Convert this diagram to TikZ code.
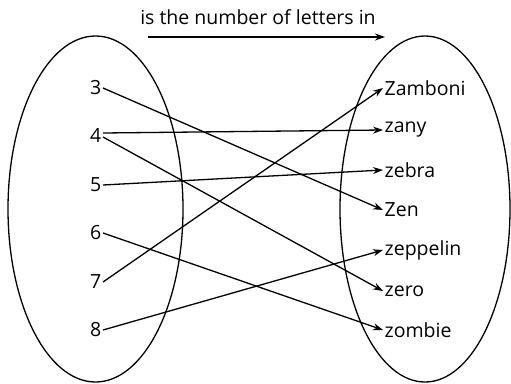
\documentclass[tikz,border=0pt]{standalone}
\usepackage{fontspec}
\setmainfont{Open Sans}
\usetikzlibrary{arrows.meta}
\begin{document}
\begin{tikzpicture}[x=1pt,y=-1pt,
  lbl/.style={font=\fontsize{19.5}{22}\selectfont, inner sep=1.5pt},
  num/.style={lbl, anchor=east},
  word/.style={lbl, anchor=west},
  conn/.style={line width=1.3pt, -{Stealth[length=10pt,width=7pt]}},
  oval/.style={line width=1.3pt}]
\useasboundingbox (0,0) rectangle (511,383);
\draw[oval] (95.5,209) ellipse [x radius=87.5, y radius=173];
\draw[oval] (425,209) ellipse [x radius=85, y radius=173];
\node[lbl] (title) at (258,17) {is the number of letters in};
\coordinate (ta) at (148,37);
\coordinate (tb) at (385,37);
\draw[conn] (ta) -- (tb);
\node[num] (n3) at (103,88) {3};
\node[num] (n4) at (103,135) {4};
\node[num] (n5) at (103,185) {5};
\node[num] (n6) at (103,233) {6};
\node[num] (n7) at (103,282) {7};
\node[num] (n8) at (103,330) {8};
\node[word] (w1) at (383,88) {Zamboni};
\node[word] (w2) at (383,130) {zany};
\node[word] (w3) at (383,170) {zebra};
\node[word] (w4) at (383,210) {Zen};
\node[word] (w5) at (383,250) {zeppelin};
\node[word] (w6) at (383,291) {zero};
\node[word] (w7) at (383,330) {zombie};
\draw[conn] (n3.east) -- (w4.west);
\draw[conn] ([yshift=2pt]n4.east) -- (w2.west);
\draw[conn] ([yshift=-2pt]n4.east) -- (w6.west);
\draw[conn] (n5.east) -- (w3.west);
\draw[conn] (n6.east) -- (w7.west);
\draw[conn] (n7.east) -- (w1.west);
\draw[conn] (n8.east) -- (w5.west);
\end{tikzpicture}
\end{document}
